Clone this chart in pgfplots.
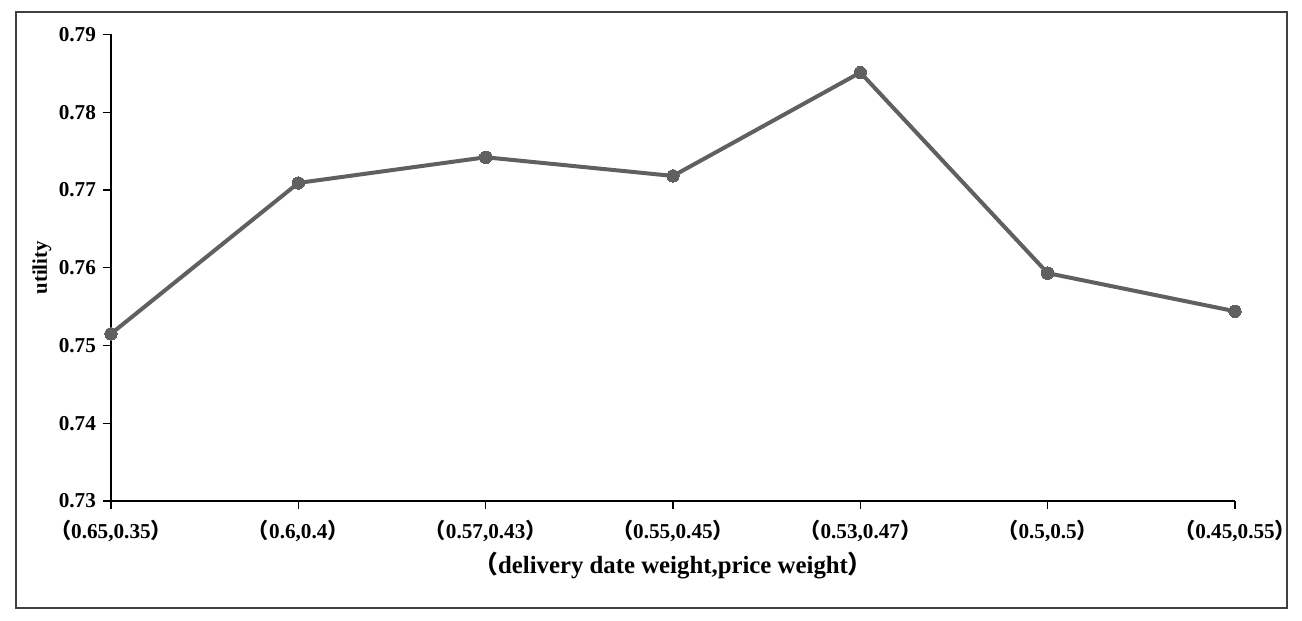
\documentclass[border=0pt]{standalone}
\usepackage{fontspec}
\setmainfont{Liberation Serif}
\newfontfamily\cjk{Noto Sans CJK SC}
\usepackage{pgfplots}
\pgfplotsset{compat=1.18}
\newcommand{\lp}{{\cjk （}}
\newcommand{\rp}{{\cjk ）}}
\definecolor{linegray}{HTML}{606060}
\definecolor{framegray}{HTML}{404040}
\begin{document}
\begin{tikzpicture}
\useasboundingbox (-55.5pt,-60pt) rectangle (595.5pt,250.5pt);
\begin{axis}[
  at={(0,0)}, anchor=south west,
  scale only axis,
  width=562pt, height=233.3pt,
  xmin=0, xmax=6, ymin=0.73, ymax=0.79,
  axis x line*=bottom, axis y line*=left,
  axis line style={line width=0.75pt, black, -},
  xtick={0,1,2,3,4,5,6},
  xticklabels={{\lp0.65,0.35\rp},{\lp0.6,0.4\rp},{\lp0.57,0.43\rp},{\lp0.55,0.45\rp},{\lp0.53,0.47\rp},{\lp0.5,0.5\rp},{\lp0.45,0.55\rp}},
  ytick={0.73,0.74,0.75,0.76,0.77,0.78,0.79},
  yticklabel style={/pgf/number format/.cd, fixed, fixed zerofill, precision=2, assume math mode=true},
  tick label style={font=\fontsize{10.6}{12}\selectfont\bfseries},
  tick align=outside,
  major tick length=4pt,
  tick style={black, line width=0.6pt},
  xticklabel style={yshift=-2pt},
  xlabel={\lp delivery date weight,price weight\rp},
  ylabel={utility},
  every axis x label/.style={at={(axis description cs:0.5,-0.1393)}, anchor=center, font=\fontsize{12.4}{14}\selectfont\bfseries},
  every axis y label/.style={at={(axis description cs:-0.0614,0.5)}, rotate=90, anchor=center, font=\fontsize{10.4}{12}\selectfont\bfseries},
  clip=false,
]
\addplot[color=linegray, line width=2pt, mark=*, mark size=3.1pt, mark options={fill=linegray, draw=linegray, line width=0pt}]
coordinates {
  (0,0.7515) (1,0.7709) (2,0.7742) (3,0.7718) (4,0.7851) (5,0.7593) (6,0.7544)
};
\end{axis}
\draw[framegray, line width=1.2pt] (-47.5pt,-53.5pt) rectangle (588pt,244.5pt);
\end{tikzpicture}
\end{document}
